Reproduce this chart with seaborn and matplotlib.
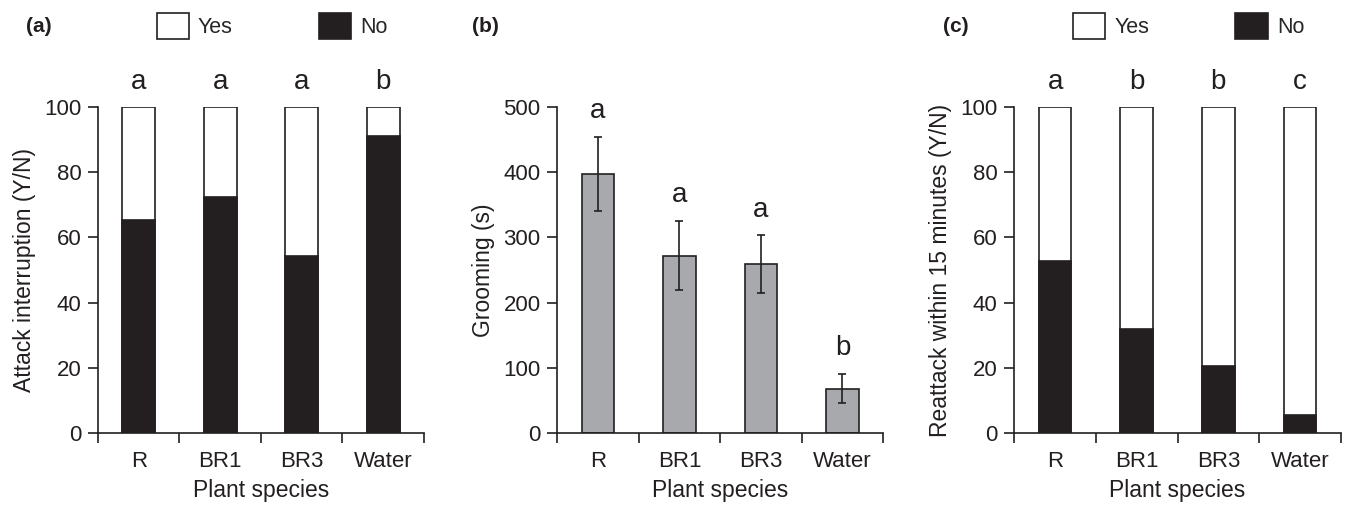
import numpy as np
import pandas as pd
import matplotlib
matplotlib.use("Agg")
import matplotlib.pyplot as plt
import matplotlib.patches as mpatches
import seaborn as sns

# data
categories = ["R", "BR1", "BR3", "Water"]
attack_no = [65.3, 72.3, 54.4, 91.2]          # % "No" (black part), panel a
grooming_mean = [397, 272, 259, 68]           # seconds, panel b
grooming_err = [57, 53, 44, 22]
reattack_no = [52.6, 31.9, 20.6, 5.5]         # % "No", panel c
letters_a = ["a", "a", "a", "b"]
letters_b = ["a", "a", "a", "b"]
letters_c = ["a", "b", "b", "c"]

sns.set_style("ticks")
plt.rcParams['font.family'] = ['Liberation Sans', 'DejaVu Sans']

dark = "#231f20"
gray = "#a7a9ac"
tick_fs = 16
label_fs = 16.5
letter_fs = 20

fig = plt.figure(figsize=(13.46, 5.05), dpi=100)
ax_a = fig.add_axes([0.0728, 0.1426, 0.2422, 0.6456])
ax_b = fig.add_axes([0.4140, 0.1426, 0.2422, 0.6456])
ax_c = fig.add_axes([0.7536, 0.1426, 0.2425, 0.6456])


def style_axis(ax, ymax, step, ylabel):
    ax.set_ylim(0, ymax)
    ax.set_xlim(-0.5, len(categories) - 0.5)
    ax.set_yticks(np.arange(0, ymax + 1, step))
    ax.set_xticks(range(len(categories)))
    ax.set_xticklabels(categories)
    # dividers between categories instead of ticks under the bars
    ax.set_xticks(np.arange(-0.5, len(categories), 1.0), minor=True)
    ax.tick_params(axis='x', which='major', length=0, pad=13, labelsize=tick_fs, colors=dark)
    ax.tick_params(axis='x', which='minor', length=7, width=1.2, color=dark, direction='out')
    ax.tick_params(axis='y', length=7, width=1.2, color=dark, pad=5, labelsize=tick_fs, labelcolor=dark)
    for s in ['top', 'right']:
        ax.spines[s].set_visible(False)
    for s in ['left', 'bottom']:
        ax.spines[s].set_linewidth(1.2)
        ax.spines[s].set_color(dark)
    ax.set_xlabel("Plant species", fontsize=label_fs, color=dark, labelpad=5)
    ax.set_ylabel(ylabel, fontsize=label_fs, color=dark, labelpad=6)


def stacked_panel(ax, no_vals, letters, ylabel, tag):
    sns.barplot(x=categories, y=[100] * len(categories), color="white", saturation=1,
                edgecolor=dark, linewidth=1.2, width=0.4, ax=ax)
    sns.barplot(x=categories, y=no_vals, color=dark, saturation=1,
                edgecolor=dark, linewidth=1.2, width=0.4, ax=ax)
    style_axis(ax, 100, 20, ylabel)
    for i, lt in enumerate(letters):
        ax.text(i, 105.4, lt, ha='center', va='baseline', fontsize=letter_fs, color=dark, clip_on=False)
    handles = [mpatches.Patch(facecolor="white", edgecolor=dark, linewidth=1.2, label="Yes"),
               mpatches.Patch(facecolor=dark, edgecolor=dark, linewidth=1.2, label="No")]
    ax.legend(handles=handles, loc='center', bbox_to_anchor=(0.534, 1.248), ncol=2,
              frameon=False, fontsize=15.5, handlelength=1.5, handleheight=1.5,
              handletextpad=0.42, columnspacing=4.0, borderaxespad=0)
    ax.text(-0.18, 1.248, tag, transform=ax.transAxes, ha='center', va='center',
            fontsize=15, fontweight='bold', color=dark)


# (a)
stacked_panel(ax_a, attack_no, letters_a, "Attack interruption (Y/N)", "(a)")

# (b)
sns.barplot(x=categories, y=grooming_mean, color=gray, saturation=1,
            edgecolor=dark, linewidth=1.2, width=0.4, ax=ax_b)
ax_b.errorbar(range(len(categories)), grooming_mean, yerr=grooming_err, fmt='none',
              ecolor=dark, elinewidth=1.2, capsize=3, capthick=1.2)
style_axis(ax_b, 500, 100, "Grooming (s)")
for i, lt in enumerate(letters_b):
    ax_b.text(i, grooming_mean[i] + grooming_err[i] + 29, lt, ha='center', va='baseline',
              fontsize=letter_fs, color=dark, clip_on=False)
ax_b.text(-0.22, 1.248, "(b)", transform=ax_b.transAxes, ha='center', va='center',
          fontsize=15, fontweight='bold', color=dark)

# (c)
stacked_panel(ax_c, reattack_no, letters_c, "Reattack within 15 minutes (Y/N)", "(c)")

fig.savefig("out.png", dpi=100)
